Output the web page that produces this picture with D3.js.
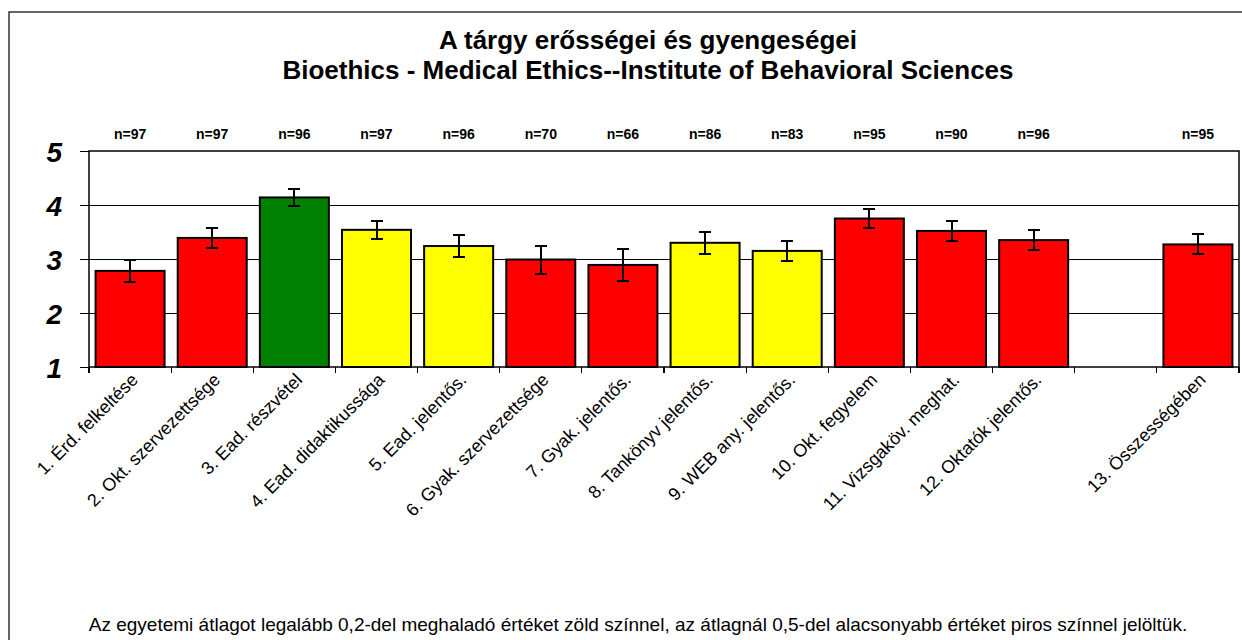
<!DOCTYPE html>
<html>
<head>
<meta charset="utf-8">
<script src="https://cdnjs.cloudflare.com/ajax/libs/d3/7.8.5/d3.min.js"></script>
<style>
  body { margin: 0; background: #fff; }
  svg { display: block; font-family: "Liberation Sans", Arial, sans-serif; }
  line { shape-rendering: crispEdges; }
</style>
</head>
<body>
<svg id="chart" width="1242" height="640"></svg>
<script>
// categories (slot 13 is an empty gap in the original chart)
const categories = [
  '1. Érd. felkeltése', '2. Okt. szervezettsége', '3. Ead. részvétel',
  '4. Ead. didaktikussága', '5. Ead. jelentős.', '6. Gyak. szervezettsége',
  '7. Gyak. jelentős.', '8. Tankönyv jelentős.', '9. WEB any. jelentős.',
  '10. Okt. fegyelem', '11. Vizsgaköv. meghat.', '12. Oktatók jelentős.',
  '', '13. Összességében'
];
const means = [2.78, 3.39, 4.14, 3.54, 3.24, 2.99, 2.89, 3.30, 3.15, 3.75, 3.52, 3.35, null, 3.27];
const errors = [0.20, 0.18, 0.15, 0.17, 0.20, 0.26, 0.29, 0.20, 0.19, 0.18, 0.19, 0.19, null, 0.185];
const counts = [97, 97, 96, 97, 96, 70, 66, 86, 83, 95, 90, 96, null, 95];
const ratings = ['red', 'red', 'green', 'yellow', 'yellow', 'red', 'red', 'yellow', 'yellow', 'red', 'red', 'red', null, 'red'];
const yTicks = [1, 2, 3, 4, 5];

const svg = d3.select('#chart');
const margin = { left: 89, right: 3, top: 151, bottom: 273 };
const width = 1242, height = 640;
const x0 = margin.left, x1 = width - margin.right;
const y0 = height - margin.bottom, y1 = margin.top;

const fillColor = d3.scaleOrdinal()
  .domain(['red', 'yellow', 'green'])
  .range(['#ff0000', '#ffff00', '#008000']);

const x = d3.scaleBand()
  .domain(d3.range(categories.length))
  .range([x0, x1])
  .paddingInner(0.16)
  .paddingOuter(0.08);

const y = d3.scaleLinear().domain([1, 5]).range([y0, y1]);

// outer frame
svg.append('rect')
  .attr('x', 9).attr('y', 12)
  .attr('width', 1240).attr('height', 700)
  .attr('fill', 'none').attr('stroke', '#000').attr('stroke-width', 1.2);

// title
const title = svg.append('text')
  .attr('text-anchor', 'middle')
  .style('font-size', '26px').style('font-weight', 'bold');
title.append('tspan').attr('x', 648).attr('y', 49).text('A tárgy erősségei és gyengeségei');
title.append('tspan').attr('x', 648).attr('y', 79).text('Bioethics - Medical Ethics--Institute of Behavioral Sciences');

// gridlines
svg.append('g')
  .selectAll('line')
  .data(yTicks.filter(d => d > 1 && d < 5))
  .join('line')
  .attr('x1', x0).attr('x2', x1)
  .attr('y1', d => y(d)).attr('y2', d => y(d))
  .attr('stroke', '#000').attr('stroke-width', 1);

// plot frame
svg.append('rect')
  .attr('x', x0).attr('y', y1)
  .attr('width', x1 - x0).attr('height', y0 - y1)
  .attr('fill', 'none').attr('stroke', '#000').attr('stroke-width', 1.5);

// y axis
const yAxis = svg.append('g')
  .attr('transform', `translate(${x0},0)`)
  .call(d3.axisLeft(y).tickValues(yTicks).tickSize(9).tickPadding(18).tickFormat(d3.format('d')));
yAxis.select('.domain').remove();
yAxis.selectAll('line').attr('stroke', '#000').attr('stroke-width', 1.2);
yAxis.selectAll('text')
  .attr('fill', '#000')
  .attr('dy', '0.36em')
  .style('font-size', '28px').style('font-weight', 'bold').style('font-style', 'italic');

// x tick marks at band edges
svg.append('g')
  .selectAll('line')
  .data(d3.range(categories.length + 1))
  .join('line')
  .attr('x1', i => x0 + i * x.step()).attr('x2', i => x0 + i * x.step())
  .attr('y1', y0).attr('y2', y0 + 6)
  .attr('stroke', '#000').attr('stroke-width', 1.2);

const idx = d3.range(categories.length).filter(i => means[i] != null);

// bars
svg.append('g')
  .selectAll('rect')
  .data(idx)
  .join('rect')
  .attr('x', i => x(i))
  .attr('y', i => y(means[i]))
  .attr('width', x.bandwidth())
  .attr('height', i => y0 - y(means[i]))
  .attr('fill', i => fillColor(ratings[i]))
  .attr('stroke', '#000').attr('stroke-width', 2);

// error bars
const eb = svg.append('g').attr('stroke', '#000').attr('stroke-width', 2);
idx.forEach(i => {
  const cx = x(i) + x.bandwidth() / 2;
  const hi = y(means[i] + errors[i]), lo = y(means[i] - errors[i]);
  eb.append('line').attr('x1', cx).attr('x2', cx).attr('y1', hi).attr('y2', lo);
  eb.append('line').attr('x1', cx - 6).attr('x2', cx + 6).attr('y1', hi).attr('y2', hi);
  eb.append('line').attr('x1', cx - 6).attr('x2', cx + 6).attr('y1', lo).attr('y2', lo);
});

// n labels
svg.append('g')
  .selectAll('text')
  .data(idx)
  .join('text')
  .attr('x', i => x(i) + x.bandwidth() / 2)
  .attr('y', 139)
  .attr('text-anchor', 'middle')
  .style('font-size', '14px').style('font-weight', 'bold')
  .text(i => 'n=' + counts[i]);

// category labels
svg.append('g')
  .selectAll('text')
  .data(d3.range(categories.length))
  .join('text')
  .attr('transform', i => `translate(${x(i) + x.bandwidth() / 2 + 9},${y0 + 14}) rotate(-45)`)
  .attr('text-anchor', 'end')
  .style('font-size', '18px')
  .text(i => categories[i]);

// footnote
svg.append('text')
  .attr('x', 638).attr('y', 631)
  .attr('text-anchor', 'middle')
  .style('font-size', '19px')
  .text('Az egyetemi átlagot legalább 0,2-del meghaladó értéket zöld színnel, az átlagnál 0,5-del alacsonyabb értéket piros színnel jelöltük.');
</script>
</body>
</html>
